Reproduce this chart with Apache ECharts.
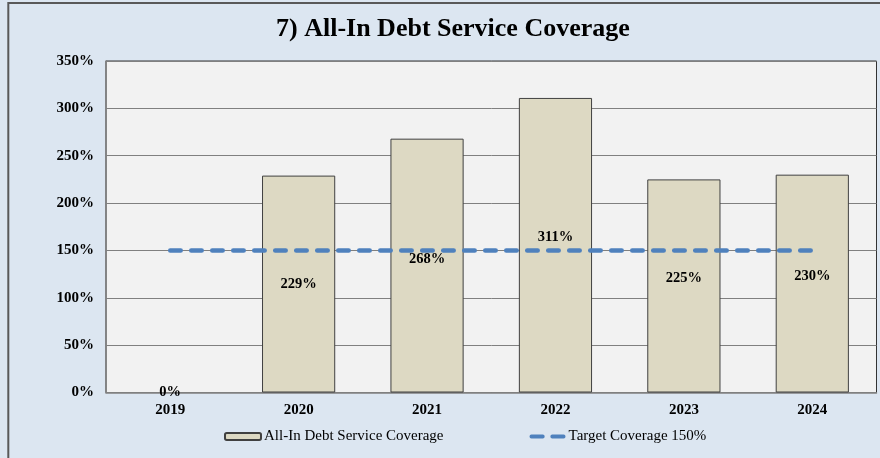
<!DOCTYPE html>
<html>
<head>
<meta charset="utf-8">
<script src="https://cdn.jsdelivr.net/npm/echarts@6/dist/echarts.min.js"></script>
<style>
  html, body { margin: 0; padding: 0; background: #dce6f1; }
  #chart { width: 880px; height: 458px; }
</style>
</head>
<body>
<div id="chart"></div>
<script>
// Fiscal years and coverage ratios (percent)
const years = ['2019', '2020', '2021', '2022', '2023', '2024'];
const coverage = [0, 229, 268, 311, 225, 230];
const target = [150, 150, 150, 150, 150, 150];
const yTicks = { min: 0, max: 350, step: 50 };

// Vertical nudges for the value labels inside the bars
const labelNudge = [0, 0, -6, -8, -8, -7];

const chart = echarts.init(document.getElementById('chart'), null, { renderer: 'canvas' });

const serif = '"Liberation Serif", serif';

// Two rounded dashes for the target line's legend key
const dashIcon = 'path://M2,0H14A2,2 0 0 1 14,4H2A2,2 0 0 1 2,0Z M24,0H36A2,2 0 0 1 36,4H24A2,2 0 0 1 24,0Z';

chart.setOption({
  backgroundColor: '#dce6f1',
  animation: false,
  title: {
    text: '7) All-In Debt Service Coverage',
    left: 276,
    top: 16,
    padding: [0, 0, 0, 0],
    textStyle: { fontFamily: serif, fontWeight: 'bold', fontSize: 26, color: '#000' }
  },
  graphic: [
    { type: 'line', shape: { x1: 8, y1: 3, x2: 880, y2: 3 }, style: { stroke: '#595959', lineWidth: 2 }, silent: true },
    { type: 'line', shape: { x1: 8.3, y1: 2, x2: 8.3, y2: 458 }, style: { stroke: '#595959', lineWidth: 2 }, silent: true }
  ],
  legend: {
    left: 224,
    top: 429,
    padding: 0,
    itemGap: 86,
    itemWidth: 36,
    itemHeight: 7,
    textStyle: { fontFamily: serif, fontSize: 15, color: '#000', padding: [0, 0, 0, -2] },
    data: [
      { name: 'All-In Debt Service Coverage' },
      { name: 'Target Coverage 150%', icon: dashIcon, itemStyle: { color: '#4f81bd' } }
    ]
  },
  grid: {
    left: 106,
    right: 3.5,
    top: 61,
    bottom: 65.5,
    show: true,
    backgroundColor: '#f2f2f2',
    borderColor: '#333333',
    borderWidth: 1
  },
  xAxis: {
    type: 'category',
    data: years,
    axisLine: { show: true, lineStyle: { color: '#808080', width: 1.5 } },
    axisTick: { show: false },
    axisLabel: { margin: 10, fontFamily: serif, fontWeight: 'bold', fontSize: 15, color: '#000' }
  },
  yAxis: {
    type: 'value',
    min: yTicks.min,
    max: yTicks.max,
    interval: yTicks.step,
    axisLine: { show: true, lineStyle: { color: '#808080', width: 1.5 } },
    axisTick: { show: false },
    splitLine: { show: true, lineStyle: { color: '#808080', width: 1 } },
    axisLabel: {
      margin: 12,
      fontFamily: serif, fontWeight: 'bold', fontSize: 15, color: '#000',
      formatter: v => v + '%'
    }
  },
  series: [
    {
      name: 'All-In Debt Service Coverage',
      type: 'bar',
      data: coverage.map((v, i) => ({
        value: v,
        label: { offset: [0, labelNudge[i]] },
        itemStyle: v === 0 ? { borderWidth: 0 } : undefined
      })),
      barWidth: '57%',
      itemStyle: { color: '#ddd9c3', borderColor: '#404040', borderWidth: 1 },
      label: {
        show: true,
        position: 'inside',
        formatter: p => p.value + '%',
        fontFamily: serif, fontWeight: 'bold', fontSize: 14.5, color: '#000'
      },
      z: 2
    },
    {
      name: 'Target Coverage 150%',
      type: 'line',
      data: target,
      symbol: 'none',
      lineStyle: { color: '#4f81bd', width: 4.5, type: [10.5, 10.5], cap: 'round' },
      itemStyle: { color: '#4f81bd' },
      z: 3
    }
  ]
});
</script>
</body>
</html>
